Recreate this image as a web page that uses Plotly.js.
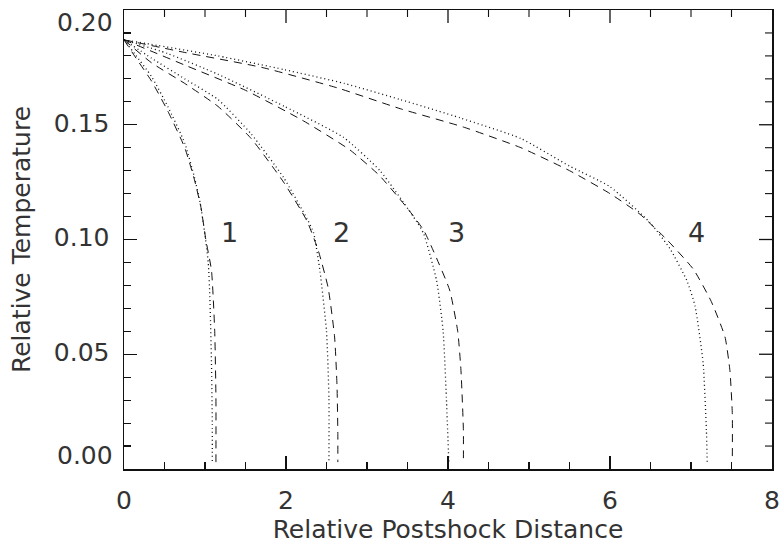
<!DOCTYPE html>
<html>
<head>
<meta charset="utf-8">
<script src="https://cdn.plot.ly/plotly-3.0.1.min.js"></script>
<style>
  html, body { margin: 0; padding: 0; background: #fff; }
  #chart { width: 781px; height: 548px; }
</style>
</head>
<body>
<div id="chart"></div>
<script>
'use strict'
// values: x = relative postshock distance, y = relative temperature
// curve 1
const c1DotX = [0, 0.13, 0.34, 0.54, 0.75, 0.87, 0.94, 1.00, 1.04, 1.06, 1.08, 1.09, 1.09];
const c1DotY = [0.187, 0.181, 0.171, 0.158, 0.142, 0.127, 0.116, 0.102, 0.090, 0.075, 0.046, 0.020, 0.003];
const c1DashX = [0, 0.13, 0.34, 0.54, 0.75, 0.87, 0.95, 1.01, 1.08, 1.12, 1.135, 1.135];
const c1DashY = [0.187, 0.180, 0.169, 0.156, 0.140, 0.126, 0.114, 0.100, 0.0865, 0.060, 0.031, 0.003];
// curve 2
const c2DotX = [0, 0.34, 0.75, 1.16, 1.57, 1.97, 2.26, 2.34, 2.42, 2.50, 2.53, 2.53];
const c2DotY = [0.187, 0.179, 0.170, 0.161, 0.146, 0.127, 0.109, 0.103, 0.086, 0.060, 0.031, 0.003];
const c2DashX = [0, 0.34, 0.75, 1.16, 1.57, 1.97, 2.26, 2.40, 2.52, 2.60, 2.63, 2.64, 2.64];
const c2DashY = [0.187, 0.177, 0.168, 0.158, 0.144, 0.125, 0.108, 0.095, 0.079, 0.0575, 0.036, 0.015, 0.003];
// curve 3
const c3DotX = [0, 0.54, 1.16, 1.98, 2.71, 3.16, 3.61, 3.70, 3.86, 3.94, 3.98, 4.01];
const c3DotY = [0.187, 0.181, 0.172, 0.158, 0.1445, 0.130, 0.108, 0.1025, 0.082, 0.060, 0.031, 0.003];
const c3DashX = [0, 0.75, 1.5, 2.2, 2.79, 3.15, 3.49, 3.70, 3.82, 4.02, 4.12, 4.16, 4.19, 4.19];
const c3DashY = [0.187, 0.176, 0.165, 0.152, 0.139, 0.128, 0.114, 0.104, 0.095, 0.078, 0.060, 0.043, 0.017, 0.003];
// curve 4
const c4DotX = [0, 0.34, 1.16, 1.98, 2.72, 3.41, 4.15, 4.9, 5.5, 6.0, 6.49, 6.74, 6.95, 7.05, 7.15, 7.19, 7.20];
const c4DotY = [0.187, 0.185, 0.180, 0.174, 0.168, 0.161, 0.153, 0.144, 0.132, 0.123, 0.1075, 0.096, 0.082, 0.071, 0.046, 0.017, 0.003];
const c4DashX = [0, 0.75, 1.70, 2.64, 3.41, 4.19, 4.9, 5.5, 6.0, 6.37, 6.70, 7.03, 7.25, 7.42, 7.48, 7.51, 7.51];
const c4DashY = [0.187, 0.1815, 0.175, 0.166, 0.157, 0.149, 0.140, 0.130, 0.120, 0.111, 0.100, 0.087, 0.073, 0.0575, 0.043, 0.024, 0.003];

// curve labels
const labelText = ['1', '2', '3', '4'];
const labelX = [1.30, 2.68, 4.10, 7.07];
const labelY = [0.103, 0.103, 0.103, 0.103];

// axis ticks
const xTicks = [0, 2, 4, 6, 8];
const xMinor = [0.5, 1, 1.5, 2.5, 3, 3.5, 4.5, 5, 5.5, 6.5, 7, 7.5];
const yTicks = [0, 0.05, 0.10, 0.15, 0.20];
const yMinor = [0.01, 0.02, 0.03, 0.04, 0.06, 0.07, 0.08, 0.09, 0.11, 0.12, 0.13, 0.14, 0.16, 0.17, 0.18, 0.19];
const yTickText = ['0.00', '0.05', '0.10', '0.15', '0.20'];

const xRange = [0, 8];
const yRange = [0, 0.2];

const ink = '#111';
const textInk = '#333';
const dotDash = '1px,3px';
const longDash = '8px,6px';

const W = 781, H = 548;
const margin = {l: 124, r: 9, t: 10, b: 79};
const plotW = W - margin.l - margin.r;
const plotH = H - margin.t - margin.b;

function line(x, y, dash, w) {
  return {x: x, y: y, type: 'scatter', mode: 'lines',
    line: {color: ink, width: w, dash: dash, shape: 'spline', smoothing: 0.5},
    hoverinfo: 'skip', showlegend: false};
}

let traces = [
  line(c1DotX, c1DotY, dotDash, 1.3), line(c1DashX, c1DashY, longDash, 1),
  line(c2DotX, c2DotY, dotDash, 1.3), line(c2DashX, c2DashY, longDash, 1),
  line(c3DotX, c3DotY, dotDash, 1.3), line(c3DashX, c3DashY, longDash, 1),
  line(c4DotX, c4DotY, dotDash, 1.3), line(c4DashX, c4DashY, longDash, 1)
];

// inward ticks on the top and right sides of the frame
let shapes = [];
function topTicks(vals, len, w) {
  vals.forEach(function (v) {
    shapes.push({type: 'line', xref: 'x', yref: 'paper', x0: v, x1: v, y0: 1, y1: 1 - len / plotH,
      line: {color: ink, width: w}});
  });
}
function rightTicks(vals, len, w) {
  vals.forEach(function (v) {
    shapes.push({type: 'line', xref: 'paper', yref: 'y', x0: 1, x1: 1 - len / plotW, y0: v, y1: v,
      line: {color: ink, width: w}});
  });
}
topTicks(xTicks.slice(1, -1), 13, 1.3);
topTicks(xMinor, 7, 1.1);
rightTicks(yTicks.slice(1, -1), 13, 1.3);
rightTicks(yMinor, 7, 1.1);

let annotations = labelText.map(function (t, i) {
  return {x: labelX[i], y: labelY[i], text: t, showarrow: false,
    font: {family: 'DejaVu Sans', size: 27, color: textInk}};
});

let tickFont = {family: 'DejaVu Sans', size: 25, color: textInk};
let titleFont = {family: 'DejaVu Sans', size: 25, color: textInk};

// end labels of the y axis sit inside the frame height, as in the original
annotations.push({xref: 'paper', yref: 'y', x: 0, y: yTicks[4], xanchor: 'right', yanchor: 'top',
  xshift: -9, yshift: 4, text: yTickText[4], showarrow: false, font: tickFont});
annotations.push({xref: 'paper', yref: 'y', x: 0, y: yTicks[0], xanchor: 'right', yanchor: 'bottom',
  xshift: -9, yshift: -3, text: yTickText[0], showarrow: false, font: tickFont});

let axisCommon = {
  showgrid: false, zeroline: false, showline: true, mirror: true, linecolor: ink, linewidth: 1.5,
  ticks: 'inside', ticklen: 13, tickwidth: 1.3, tickcolor: ink, tickfont: tickFont,
  tickmode: 'array', ticklabeloverflow: 'allow', fixedrange: true
};

let layout = {
  width: W, height: H,
  margin: margin,
  paper_bgcolor: '#fff', plot_bgcolor: '#fff',
  font: {family: 'DejaVu Sans', color: textInk},
  xaxis: Object.assign({}, axisCommon, {
    range: xRange, tickvals: xTicks, ticklabelstandoff: 8,
    minor: {tickmode: 'array', tickvals: xMinor, ticks: 'inside', ticklen: 7, tickcolor: ink, tickwidth: 1.1},
    title: {text: 'Relative Postshock Distance', font: titleFont, standoff: 6}
  }),
  yaxis: Object.assign({}, axisCommon, {
    range: yRange, tickvals: yTicks, ticktext: ['', yTickText[1], yTickText[2], yTickText[3], ''],
    ticklabelstandoff: 8, ticklabelshift: -2,
    minor: {tickmode: 'array', tickvals: yMinor, ticks: 'inside', ticklen: 7, tickcolor: ink, tickwidth: 1.1},
    title: {text: 'Relative Temperature', font: titleFont, standoff: 16}
  }),
  shapes: shapes,
  annotations: annotations
};

Plotly.newPlot(document.getElementById('chart'), traces, layout, {displayModeBar: false, staticPlot: true});
</script>
</body>
</html>
